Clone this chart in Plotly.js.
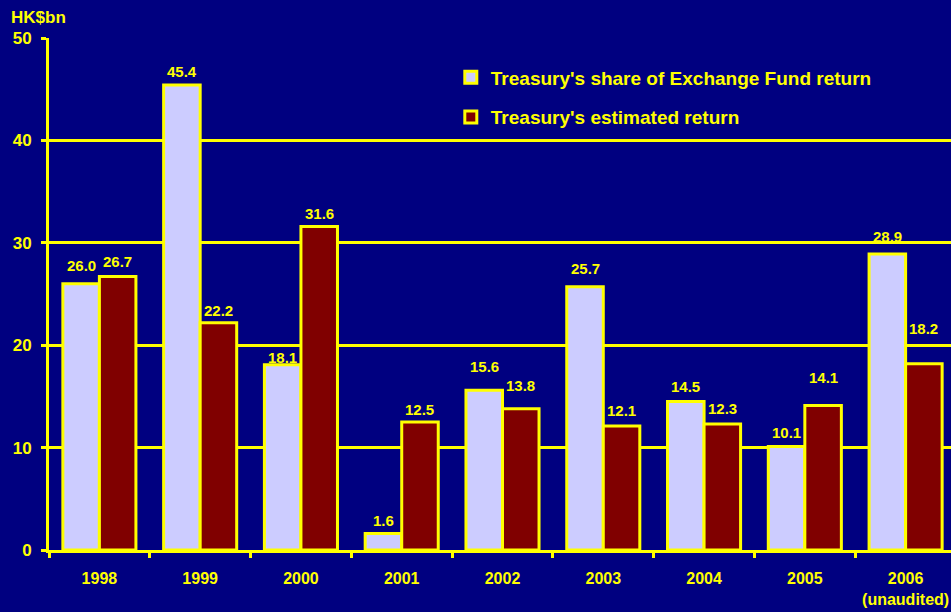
<!DOCTYPE html>
<html>
<head>
<meta charset="utf-8">
<script src="https://cdn.plot.ly/plotly-3.0.1.min.js"></script>
<style>
html,body{margin:0;padding:0;background:#000080;overflow:hidden;}
#chart{width:957px;height:612px;}
</style>
</head>
<body>
<div id="chart"></div>
<script>
const years = ["1998","1999","2000","2001","2002","2003","2004","2005","2006"];
const yearLabels = ["1998","1999","2000","2001","2002","2003","2004","2005","2006<br>(unaudited)"];
const shareOfEF = [26.0, 45.4, 18.1, 1.6, 15.6, 25.7, 14.5, 10.1, 28.9];
const estimatedReturn = [26.7, 22.2, 31.6, 12.5, 13.8, 12.1, 12.3, 14.1, 18.2];
const seriesNames = ["Treasury's share of Exchange Fund return", "Treasury's estimated return"];

// style: pixel gap between bar top and label centre, as placed in the original
const shareLabelGap = [18, 13.5, 7.5, 13, 23.5, 18, 15.5, 14, 18];
const estLabelGap = [15.5, 12, 13, 13, 23, 16, 16, 28.5, 35];

const FONT = "Liberation Sans, Arial, sans-serif";
const YEL = "#FFFF00";
const BARGAP = 0.275;
const half = (1 - BARGAP) / 4; // offset of each bar centre from category centre

const traces = [
  {
    type: "bar", x: years, y: shareOfEF, name: seriesNames[0], legendgroup: "a",
    marker: {color: "#CCCCFF", line: {color: YEL, width: 3}},
    hoverinfo: "skip"
  },
  {
    type: "bar", x: years, y: estimatedReturn, name: seriesNames[1], legendgroup: "b",
    marker: {color: "#800000", line: {color: YEL, width: 3}},
    hoverinfo: "skip"
  }
];

const labelFont = {family: FONT, size: 15, color: YEL, weight: "bold"};
const annotations = [];
[[shareOfEF, shareLabelGap], [estimatedReturn, estLabelGap]].forEach(([vals, gaps], s) => {
  vals.forEach((v, i) => {
    annotations.push({
      xref: "x", yref: "y", x: i + (s === 0 ? -half : half), y: v,
      text: v.toFixed(1), showarrow: false, xanchor: "center", yanchor: "middle",
      yshift: gaps[i], font: labelFont
    });
  });
});
annotations.push({
  text: "HK$bn", xref: "paper", yref: "paper", x: -0.044, y: 1.04,
  xanchor: "left", yanchor: "middle", showarrow: false,
  font: {family: FONT, size: 17, color: YEL, weight: "bold"}
});

const layout = {
  width: 957, height: 612,
  margin: {l: 49, r: 1, t: 38, b: 62},
  paper_bgcolor: "#000080", plot_bgcolor: "#000080",
  font: {family: FONT, color: YEL, size: 16, weight: "bold"},
  barmode: "group", bargap: BARGAP, bargroupgap: 0,
  showlegend: true,
  legend: {
    x: 0.443, y: 0.96, xanchor: "left", yanchor: "top",
    bgcolor: "rgba(0,0,0,0)", traceorder: "grouped", tracegroupgap: 12,
    font: {family: FONT, size: 19, color: YEL, weight: "bold"}
  },
  xaxis: {
    type: "category", tickvals: years, ticktext: yearLabels,
    range: [-0.5, 8.5],
    showline: true, linecolor: YEL, linewidth: 3,
    ticks: "outside", tickson: "boundaries", ticklen: 5, tickcolor: YEL, tickwidth: 3,
    tickfont: {family: FONT, size: 16, color: YEL, weight: "bold"},
    ticklabelstandoff: 12,
    showgrid: false, zeroline: false, fixedrange: true
  },
  yaxis: {
    range: [0, 50], dtick: 10,
    showline: true, linecolor: YEL, linewidth: 3,
    showgrid: true, gridcolor: YEL, gridwidth: 3,
    ticks: "outside", ticklen: 5, tickcolor: YEL, tickwidth: 3,
    tickfont: {family: FONT, size: 17, color: YEL, weight: "bold"},
    ticklabelstandoff: 6,
    zeroline: false, fixedrange: true
  },
  annotations: annotations
};

Plotly.newPlot("chart", traces, layout, {displayModeBar: false, staticPlot: true});
</script>
</body>
</html>
